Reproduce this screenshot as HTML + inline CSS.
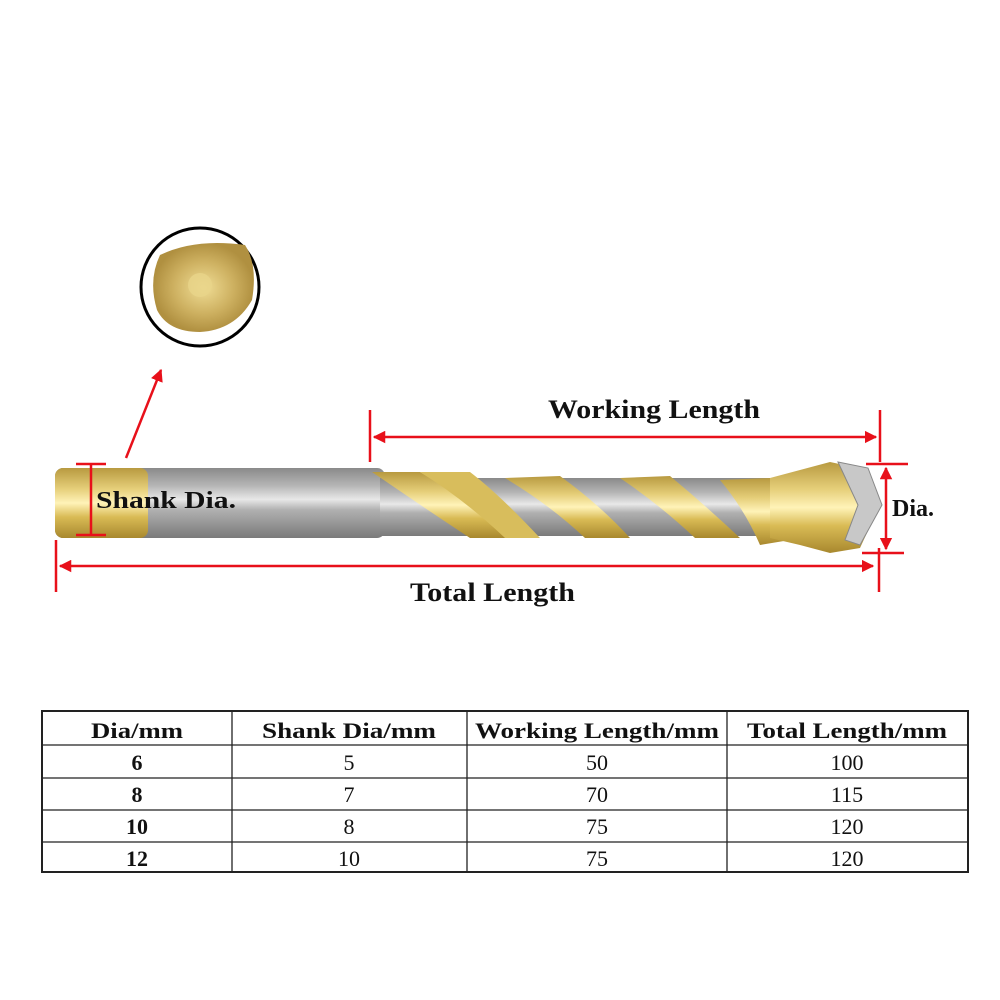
<!DOCTYPE html>
<html><head><meta charset="utf-8"><style>
html,body{margin:0;padding:0;background:#fff;}
svg{display:block;}
text{font-family:"Liberation Serif",serif;}
</style></head><body>
<svg width="1000" height="1000" viewBox="0 0 1000 1000" xmlns="http://www.w3.org/2000/svg">
<defs>
<linearGradient id="gray" x1="0" y1="0" x2="0" y2="1">
<stop offset="0" stop-color="#8a8a8a"/><stop offset="0.25" stop-color="#b5b5b5"/><stop offset="0.45" stop-color="#e8e8e8"/><stop offset="0.6" stop-color="#b0b0b0"/><stop offset="1" stop-color="#7a7a7a"/>
</linearGradient>
<linearGradient id="gold" x1="0" y1="0" x2="0" y2="1">
<stop offset="0" stop-color="#b89a40"/><stop offset="0.3" stop-color="#e6cf7a"/><stop offset="0.5" stop-color="#fff3b8"/><stop offset="0.7" stop-color="#d9bb55"/><stop offset="1" stop-color="#a8882e"/>
</linearGradient>
<radialGradient id="endg" cx="0.5" cy="0.5" r="0.5">
<stop offset="0" stop-color="#f0dd95"/><stop offset="0.6" stop-color="#cdb060"/><stop offset="1" stop-color="#b09040"/>
</radialGradient>
<marker id="ar" viewBox="0 0 10 10" refX="9" refY="5" markerWidth="5" markerHeight="5" orient="auto-start-reverse"><path d="M0,0 L10,5 L0,10 z" fill="#e8101a"/></marker>
</defs>

<circle cx="200" cy="287" r="59" fill="#fff" stroke="#000" stroke-width="3"/>
<path d="M160,255 Q195,238 245,245 Q258,265 252,300 Q235,330 200,332 Q168,332 157,310 Q148,280 160,255z" fill="url(#endg)"/>
<circle cx="200" cy="285" r="12" fill="#e8d48a" opacity="0.8"/>
<line x1="126" y1="458" x2="161" y2="370" stroke="#e8101a" stroke-width="2.5" marker-end="url(#ar)"/>

<rect x="55" y="468" width="330" height="70" rx="8" fill="url(#gray)"/>
<rect x="55" y="468" width="93" height="70" rx="8" fill="url(#gold)"/>
<rect x="380" y="478" width="400" height="58" fill="url(#gray)"/>
<path d="M372,472 L420,472 Q470,500 520,538 L470,538 Q420,505 372,472z" fill="url(#gold)"/>
<path d="M420,472 L470,472 Q500,495 540,538 L505,538 Q465,500 420,472z" fill="#d8bd5c"/>
<path d="M505,478 L560,476 Q600,505 630,538 L585,538 Q550,505 505,478z" fill="url(#gold)"/>
<path d="M620,478 L670,476 Q705,505 740,538 L695,538 Q660,505 620,478z" fill="url(#gold)"/>
<path d="M720,480 L770,478 L790,540 L760,545 Q745,510 720,480z" fill="url(#gold)"/>
<path d="M770,478 L800,470 L830,462 L868,470 L880,505 L860,548 L830,553 L800,545 L770,538z" fill="url(#gold)"/>
<path d="M838,462 L868,468 L882,505 L860,545 L845,540 L858,505z" fill="#c8c8c8" stroke="#888" stroke-width="1"/>

<g stroke="#e8101a" stroke-width="2.5" fill="none">
<line x1="370" y1="410" x2="370" y2="462"/>
<line x1="880" y1="410" x2="880" y2="462"/>
<line x1="374" y1="437" x2="876" y2="437" marker-start="url(#ar)" marker-end="url(#ar)"/>
<line x1="56" y1="540" x2="56" y2="592"/>
<line x1="879" y1="548" x2="879" y2="592"/>
<line x1="60" y1="566" x2="873" y2="566" marker-start="url(#ar)" marker-end="url(#ar)"/>
<line x1="76" y1="464" x2="106" y2="464"/>
<line x1="76" y1="535" x2="106" y2="535"/>
<line x1="91" y1="464" x2="91" y2="535"/>
<line x1="866" y1="464" x2="908" y2="464"/>
<line x1="862" y1="553" x2="904" y2="553"/>
<line x1="886" y1="468" x2="886" y2="549" marker-start="url(#ar)" marker-end="url(#ar)"/>
</g>
<g font-weight="bold" font-size="26" fill="#111">
<text x="548" y="418" textLength="212" lengthAdjust="spacingAndGlyphs">Working Length</text>
<text x="410" y="601" textLength="165" lengthAdjust="spacingAndGlyphs">Total Length</text>
<text x="96" y="508" font-size="24" textLength="140" lengthAdjust="spacingAndGlyphs">Shank Dia.</text>
<text x="892" y="516" font-size="24">Dia.</text>
</g>

<g stroke="#222" stroke-width="1.3" fill="none">
<rect x="42" y="711" width="926" height="161" stroke-width="2"/>
<line x1="42" y1="745" x2="968" y2="745"/>
<line x1="42" y1="778" x2="968" y2="778"/>
<line x1="42" y1="810" x2="968" y2="810"/>
<line x1="42" y1="842" x2="968" y2="842"/>
<line x1="232" y1="711" x2="232" y2="872"/>
<line x1="467" y1="711" x2="467" y2="872"/>
<line x1="727" y1="711" x2="727" y2="872"/>
</g>
<g font-size="22" fill="#111" text-anchor="middle">
<g font-weight="bold">
<text x="137" y="738" textLength="92" lengthAdjust="spacingAndGlyphs">Dia/mm</text>
<text x="349" y="738" textLength="174" lengthAdjust="spacingAndGlyphs">Shank Dia/mm</text>
<text x="597" y="738" textLength="244" lengthAdjust="spacingAndGlyphs">Working Length/mm</text>
<text x="847" y="738" textLength="200" lengthAdjust="spacingAndGlyphs">Total Length/mm</text>
<text x="137" y="770">6</text>
<text x="137" y="802">8</text>
<text x="137" y="834">10</text>
<text x="137" y="866">12</text>
</g>
<text x="349" y="770">5</text><text x="597" y="770">50</text><text x="847" y="770">100</text>
<text x="349" y="802">7</text><text x="597" y="802">70</text><text x="847" y="802">115</text>
<text x="349" y="834">8</text><text x="597" y="834">75</text><text x="847" y="834">120</text>
<text x="349" y="866">10</text><text x="597" y="866">75</text><text x="847" y="866">120</text>
</g>
</svg>
</body></html>
